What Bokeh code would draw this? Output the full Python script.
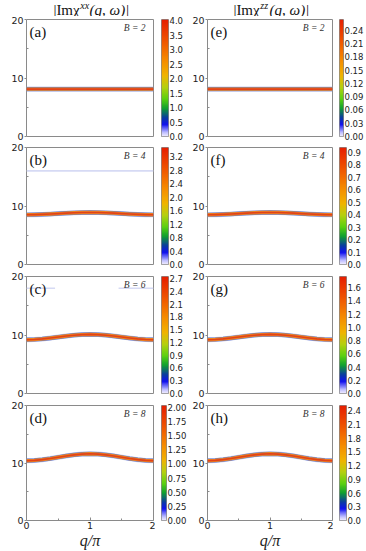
import numpy as np
from bokeh.plotting import figure
from bokeh.models import Range1d, Label, FixedTicker, LinearColorMapper, PrintfTickFormatter
from bokeh.layouts import row, column
from bokeh.embed import file_html
from bokeh.resources import INLINE

# ---------------- data ----------------
q_vals = [0.0, 0.125, 0.25, 0.375, 0.5, 0.625, 0.75, 0.875, 1.0,
          1.125, 1.25, 1.375, 1.5, 1.625, 1.75, 1.875, 2.0]

omega_B2 = [8.10, 8.10, 8.10, 8.10, 8.10, 8.10, 8.10, 8.10, 8.10,
            8.10, 8.10, 8.10, 8.10, 8.10, 8.10, 8.10, 8.10]
omega_B4 = [8.50, 8.52, 8.56, 8.62, 8.70, 8.78, 8.84, 8.88, 8.90,
            8.88, 8.84, 8.78, 8.70, 8.62, 8.56, 8.52, 8.50]
omega_B6 = [9.20, 9.23, 9.33, 9.48, 9.65, 9.82, 9.97, 10.07, 10.10,
            10.07, 9.97, 9.82, 9.65, 9.48, 9.33, 9.23, 9.20]
omega_B8 = [10.40, 10.45, 10.58, 10.77, 11.00, 11.23, 11.42, 11.55, 11.60,
            11.55, 11.42, 11.23, 11.00, 10.77, 10.58, 10.45, 10.40]
dispersions = [omega_B2, omega_B4, omega_B6, omega_B8]

field_values = [2, 4, 6, 8]
letters_xx = ["(a)", "(b)", "(c)", "(d)"]
letters_zz = ["(e)", "(f)", "(g)", "(h)"]
column_super = ["xx", "zz"]

# faint upper branches (only in the xx column)
faint_q_B4 = [[0.0, 2.0]]
faint_w_B4 = [[16.0, 16.0]]
faint_q_B6 = [[0.0, 0.45], [1.45, 2.0]]
faint_w_B6 = [[18.0, 18.0], [18.0, 18.0]]

cbar_max_xx = [4.05, 3.48, 2.75, 2.03]
cbar_max_zz = [0.264, 0.94, 1.77, 2.51]
cbar_ticks_xx = [[0.0, 0.5, 1.0, 1.5, 2.0, 2.5, 3.0, 3.5, 4.0],
                 [0.0, 0.4, 0.8, 1.2, 1.6, 2.0, 2.4, 2.8, 3.2],
                 [0.0, 0.3, 0.6, 0.9, 1.2, 1.5, 1.8, 2.1, 2.4, 2.7],
                 [0.0, 0.25, 0.5, 0.75, 1.0, 1.25, 1.5, 1.75, 2.0]]
cbar_ticks_zz = [[0.0, 0.03, 0.06, 0.09, 0.12, 0.15, 0.18, 0.21, 0.24],
                 [0.0, 0.1, 0.2, 0.3, 0.4, 0.5, 0.6, 0.7, 0.8, 0.9],
                 [0.0, 0.2, 0.4, 0.6, 0.8, 1.0, 1.2, 1.4, 1.6],
                 [0.0, 0.3, 0.6, 0.9, 1.2, 1.5, 1.8, 2.1, 2.4]]
cbar_fmt_xx = ["%.1f", "%.1f", "%.1f", "%.2f"]
cbar_fmt_zz = ["%.2f", "%.1f", "%.1f", "%.1f"]

x_major = [0, 1, 2]
x_minor = [0.5, 1.5]
y_major = [0, 10, 20]
y_minor = [5, 15]

# ---------------- styling ----------------
cmap_stops = [0.0, 0.04, 0.10, 0.16, 0.24, 0.32, 0.42, 0.52, 0.65, 0.80, 1.0]
cmap_colors = [(244, 240, 255), (176, 176, 255), (16, 16, 240), (10, 60, 160),
               (16, 160, 48), (90, 208, 16), (180, 208, 16), (240, 180, 0),
               (245, 140, 0), (240, 90, 0), (230, 30, 0)]


def build_palette(n=256):
    t = np.linspace(0, 1, n)
    arr = np.array(cmap_colors, dtype=float)
    r = np.interp(t, cmap_stops, arr[:, 0])
    g = np.interp(t, cmap_stops, arr[:, 1])
    b = np.interp(t, cmap_stops, arr[:, 2])
    return ["#%02x%02x%02x" % (int(round(a)), int(round(bb)), int(round(c)))
            for a, bb, c in zip(r, g, b)]


palette = build_palette()

band_layers = [(5.0, "#b4bcee", 0.7), (4.2, "#5068c0", 0.85),
               (3.4, "#ec8420", 1.0), (1.6, "#e2421a", 1.0)]

GREY = "#8a8a8a"
TITLE_H = 16
row_heights = [126, 128, 129, 152]
row_tops = [3, 5, 6, 6]
row_bottoms = [6, 6, 6, 29]


def make_title(col):
    width = 189 if col == 0 else 177
    center = 89.5 if col == 0 else 80.5
    p = figure(width=width, height=TITLE_H, x_range=Range1d(0, width),
               y_range=Range1d(0, TITLE_H), x_axis_location=None, y_axis_location=None,
               output_backend="svg", toolbar_location=None, title=None,
               min_border_left=0, min_border_right=0, min_border_top=0, min_border_bottom=0)
    p.xgrid.visible = False
    p.ygrid.visible = False
    p.outline_line_color = None
    a = -10.3
    mid = 7.0
    p.add_layout(Label(x=center + a, y=mid, text="|Imχ",
                       text_font="Liberation Serif", text_font_size="15px",
                       text_align="right", text_baseline="middle", text_color="#111111"))
    p.add_layout(Label(x=center + a + 0.6, y=mid + 4.5, text=column_super[col],
                       text_font="Liberation Serif", text_font_style="italic",
                       text_font_size="10px", text_align="left", text_baseline="middle",
                       text_color="#111111"))
    p.add_layout(Label(x=center + a + 9.9, y=mid, text="(q, ω)|",
                       text_font="Liberation Serif", text_font_style="italic",
                       text_font_size="15px", text_align="left", text_baseline="middle",
                       text_color="#111111"))
    return p


def make_main(i, col):
    if col == 0:
        width, bl, br = 155, 26, 2
    else:
        width, bl, br = 144, 18, 1
    last = i == 3
    p = figure(width=width, height=row_heights[i], x_range=Range1d(0, 2),
               y_range=Range1d(0, 20), output_backend="svg", toolbar_location=None,
               title=None, min_border_left=bl, min_border_right=br,
               min_border_top=row_tops[i], min_border_bottom=row_bottoms[i],
               x_axis_location="below" if last else None)
    p.xgrid.visible = False
    p.ygrid.visible = False
    p.outline_line_color = GREY
    p.outline_line_width = 1
    p.background_fill_color = "white"
    p.border_fill_color = "white"

    p.yaxis.ticker = FixedTicker(ticks=y_major, minor_ticks=y_minor)
    p.axis.axis_line_color = None
    p.axis.major_tick_line_color = GREY
    p.axis.minor_tick_line_color = GREY
    p.axis.major_label_text_font = "DejaVu Sans"
    p.axis.major_label_text_font_size = "9.5px"
    p.axis.major_label_text_color = "#222222"
    p.yaxis.major_tick_in = 0
    p.yaxis.major_tick_out = 2
    p.yaxis.minor_tick_in = 2
    p.yaxis.minor_tick_out = 0
    p.yaxis.major_label_standoff = 1
    if last:
        p.xaxis.ticker = FixedTicker(ticks=x_major, minor_ticks=x_minor)
        p.xaxis.major_tick_in = 3
        p.xaxis.major_tick_out = 0
        p.xaxis.minor_tick_in = 2
        p.xaxis.minor_tick_out = 0
        p.xaxis.major_label_standoff = 1
        p.xaxis.axis_label = "q/π"
        p.xaxis.axis_label_standoff = 0
        p.xaxis.axis_label_text_font = "Liberation Serif"
        p.xaxis.axis_label_text_font_style = "italic"
        p.xaxis.axis_label_text_font_size = "16px"
        p.xaxis.axis_label_text_color = "#222222"

    w = dispersions[i]
    for lw, c, a in band_layers:
        p.line(q_vals, w, line_width=lw, line_color=c, line_alpha=a, line_join="round")

    if col == 0 and i == 1:
        p.multi_line(faint_q_B4, faint_w_B4, line_width=1.6, line_color="#d6daf4")
    if col == 0 and i == 2:
        p.multi_line(faint_q_B6, faint_w_B6, line_width=1.6, line_color="#d6daf4")

    letter = letters_xx[i] if col == 0 else letters_zz[i]
    p.add_layout(Label(x=0, y=20, x_offset=3, y_offset=-4, text=letter,
                       text_font="Liberation Serif", text_font_size="15px",
                       text_baseline="top", text_align="left", text_color="#111111"))
    p.add_layout(Label(x=2, y=20, x_offset=-8, y_offset=-3, text="B = %d" % field_values[i],
                       text_font="Liberation Serif", text_font_style="italic",
                       text_font_size="9.5px", text_baseline="top", text_align="right",
                       text_color="#333333"))
    if col == 0:
        p.add_layout(Label(x=0, y=10, x_offset=-17, y_offset=0, text="ω", angle=np.pi / 2,
                           text_font="Liberation Serif", text_font_style="italic",
                           text_font_size="14px", text_baseline="middle", text_align="center",
                           text_color="#222222"))
    return p


def make_cbar(i, col):
    if col == 0:
        vmax, ticks, fmt = cbar_max_xx[i], cbar_ticks_xx[i], cbar_fmt_xx[i]
        width, br = 34, 21
    else:
        vmax, ticks, fmt = cbar_max_zz[i], cbar_ticks_zz[i], cbar_fmt_zz[i]
        width, br = 33, 20
    p = figure(width=width, height=row_heights[i], x_range=Range1d(0, 1),
               y_range=Range1d(0, vmax), x_axis_location=None, y_axis_location="right",
               output_backend="svg", toolbar_location=None, title=None,
               min_border_left=6, min_border_right=br,
               min_border_top=row_tops[i], min_border_bottom=row_bottoms[i])
    p.xgrid.visible = False
    p.ygrid.visible = False
    p.outline_line_color = GREY
    mapper = LinearColorMapper(palette=palette, low=0, high=vmax)
    grad = np.linspace(0, vmax, 256).reshape(-1, 1)
    p.image(image=[grad], x=0, y=0, dw=1, dh=vmax, color_mapper=mapper)
    p.yaxis.ticker = FixedTicker(ticks=ticks, minor_ticks=[])
    p.yaxis.formatter = PrintfTickFormatter(format=fmt)
    p.yaxis.axis_line_color = None
    p.yaxis.major_tick_in = 0
    p.yaxis.major_tick_out = 0
    p.yaxis.minor_tick_in = 0
    p.yaxis.minor_tick_out = 0
    p.yaxis.major_label_standoff = 1
    p.yaxis.major_label_text_font = "DejaVu Sans"
    p.yaxis.major_label_text_font_size = "8.5px"
    p.yaxis.major_label_text_color = "#222222"
    return p


rows = [row(make_title(0), make_title(1), spacing=0)]
for i in range(4):
    rows.append(row(make_main(i, 0), make_cbar(i, 0), make_main(i, 1), make_cbar(i, 1),
                    spacing=0))

layout = column(*rows, spacing=0)

open("out.html", "w").write(file_html(layout, INLINE))
